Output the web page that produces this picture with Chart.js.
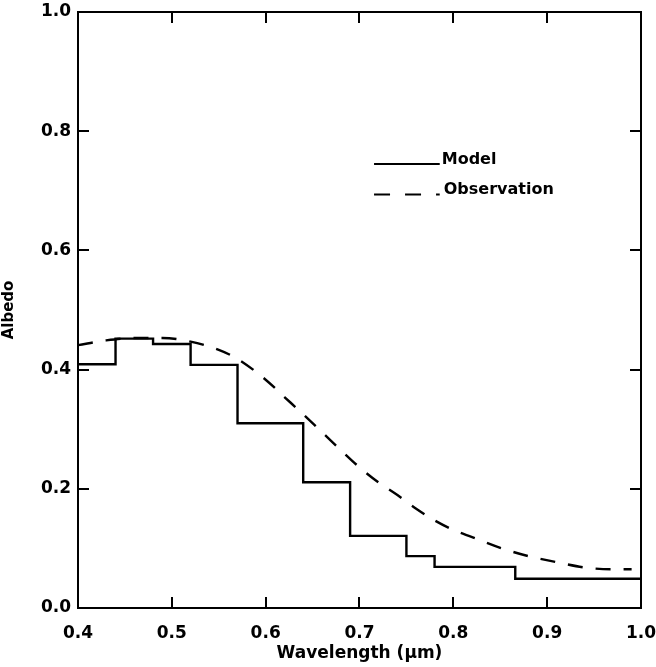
<!DOCTYPE html>
<html>
<head>
<meta charset="utf-8">
<script src="https://cdn.jsdelivr.net/npm/chart.js@4/dist/chart.umd.min.js"></script>
<style>
html, body { margin: 0; padding: 0; background: #fff; }
#wrap { width: 656px; height: 667px; }
</style>
</head>
<body>
<div id="wrap"><canvas id="albedoChart" width="656" height="667"></canvas></div>
<script>
// model: step values, each value holds from its edge to the next one
var modelEdges  = [0.40, 0.44, 0.48, 0.52, 0.57, 0.64, 0.69, 0.75, 0.78, 0.866, 1.00];
var modelAlbedo = [0.409, 0.452, 0.443, 0.408, 0.310, 0.211, 0.121, 0.087, 0.069, 0.049, 0.049];

// observation: smooth dashed curve
var obsWavelength = [0.40, 0.43, 0.46, 0.49, 0.52, 0.55, 0.57, 0.60, 0.62, 0.64, 0.66, 0.68,
                     0.70, 0.72, 0.74, 0.76, 0.78, 0.80, 0.82, 0.85, 0.88, 0.91, 0.94, 0.97, 0.99];
var obsAlbedo = [0.441, 0.449, 0.453, 0.453, 0.447, 0.433, 0.418, 0.383, 0.354, 0.325, 0.295, 0.265,
                 0.236, 0.211, 0.190, 0.167, 0.147, 0.131, 0.119, 0.101, 0.087, 0.077, 0.068, 0.065, 0.065];

var xTicks = [0.4, 0.5, 0.6, 0.7, 0.8, 0.9, 1.0];
var yTicks = [0.0, 0.2, 0.4, 0.6, 0.8, 1.0];

var labelFont = { family: "'DejaVu Sans', sans-serif", size: 17, weight: 'bold' };

function toPoints(xs, ys) {
  var pts = [];
  for (var i = 0; i < xs.length; i++) {
    pts.push({ x: xs[i], y: ys[i] });
  }
  return pts;
}

// frame, inward ticks on all four sides and the little legend
var framePlugin = {
  id: 'frame',
  afterDraw: function(chart) {
    var ctx = chart.ctx;
    var a = chart.chartArea;
    var xs = chart.scales.x, ys = chart.scales.y;
    var tickLen = 11;
    ctx.save();
    ctx.strokeStyle = '#000';
    ctx.lineWidth = 2;
    ctx.strokeRect(a.left, a.top, a.right - a.left, a.bottom - a.top);
    ctx.beginPath();
    for (var i = 1; i < xTicks.length - 1; i++) {
      var px = Math.round(xs.getPixelForValue(xTicks[i]));
      ctx.moveTo(px, a.bottom); ctx.lineTo(px, a.bottom - tickLen);
      ctx.moveTo(px, a.top); ctx.lineTo(px, a.top + tickLen);
    }
    for (var j = 1; j < yTicks.length - 1; j++) {
      var py = Math.round(ys.getPixelForValue(yTicks[j]));
      ctx.moveTo(a.left, py); ctx.lineTo(a.left + tickLen, py);
      ctx.moveTo(a.right, py); ctx.lineTo(a.right - tickLen, py);
    }
    ctx.stroke();

    // legend
    var lx0 = xs.getPixelForValue(0.7155);
    var lx1 = xs.getPixelForValue(0.7855);
    var row1 = ys.getPixelForValue(0.745);
    var row2 = ys.getPixelForValue(0.694);
    ctx.lineWidth = 2;
    ctx.beginPath();
    ctx.moveTo(lx0, row1); ctx.lineTo(lx1, row1);
    ctx.stroke();
    ctx.setLineDash([16, 15]);
    ctx.beginPath();
    ctx.moveTo(lx0, row2); ctx.lineTo(lx1, row2);
    ctx.stroke();
    ctx.setLineDash([]);
    ctx.fillStyle = '#000';
    ctx.font = "bold 16px 'DejaVu Sans', sans-serif";
    ctx.textBaseline = 'alphabetic';
    ctx.fillText('Model', lx1 + 2, row1);
    ctx.fillText('Observation', lx1 + 4, row2);
    ctx.restore();
  }
};

var chart = new Chart(document.getElementById('albedoChart'), {
  type: 'line',
  data: {
    datasets: [
      {
        label: 'Model',
        data: toPoints(modelEdges, modelAlbedo),
        stepped: true,
        borderColor: '#000',
        borderWidth: 2.4,
        pointRadius: 0,
        fill: false
      },
      {
        label: 'Observation',
        data: toPoints(obsWavelength, obsAlbedo),
        borderColor: '#000',
        borderWidth: 2.4,
        borderDash: [15, 13],
        cubicInterpolationMode: 'monotone',
        pointRadius: 0,
        fill: false
      }
    ]
  },
  options: {
    responsive: false,
    animation: false,
    devicePixelRatio: 1,
    layout: { padding: { top: 12, right: 15, left: 0, bottom: 0 } },
    plugins: {
      legend: { display: false },
      tooltip: { enabled: false }
    },
    scales: {
      x: {
        type: 'linear',
        min: 0.4,
        max: 1.0,
        afterBuildTicks: function(scale) {
          scale.ticks = xTicks.map(function(v) { return { value: v }; });
        },
        afterFit: function(scale) {
          scale.height = 59;
          scale.paddingLeft = 0;
          scale.paddingRight = 0;
        },
        grid: { display: false, drawTicks: false },
        border: { display: false },
        ticks: {
          font: labelFont,
          color: '#000',
          padding: 15,
          maxRotation: 0,
          callback: function(v) { return v.toFixed(1); }
        },
        title: {
          display: true,
          text: 'Wavelength (μm)',
          color: '#000',
          font: { family: "'DejaVu Sans', sans-serif", size: 17, weight: 'bold' },
          padding: { top: 0, bottom: 3 }
        }
      },
      y: {
        type: 'linear',
        min: 0,
        max: 1.0,
        afterBuildTicks: function(scale) {
          scale.ticks = yTicks.map(function(v) { return { value: v }; });
        },
        afterFit: function(scale) {
          scale.width = 78;
          scale.paddingTop = 0;
          scale.paddingBottom = 0;
        },
        grid: { display: false, drawTicks: false },
        border: { display: false },
        ticks: {
          font: labelFont,
          color: '#000',
          padding: 7,
          callback: function(v) { return v.toFixed(1); }
        },
        title: {
          display: true,
          text: 'Albedo',
          color: '#000',
          font: { family: "'DejaVu Sans', sans-serif", size: 15, weight: 'bold' },
          padding: { top: 0, bottom: 0 }
        }
      }
    }
  },
  plugins: [framePlugin]
});
</script>
</body>
</html>
